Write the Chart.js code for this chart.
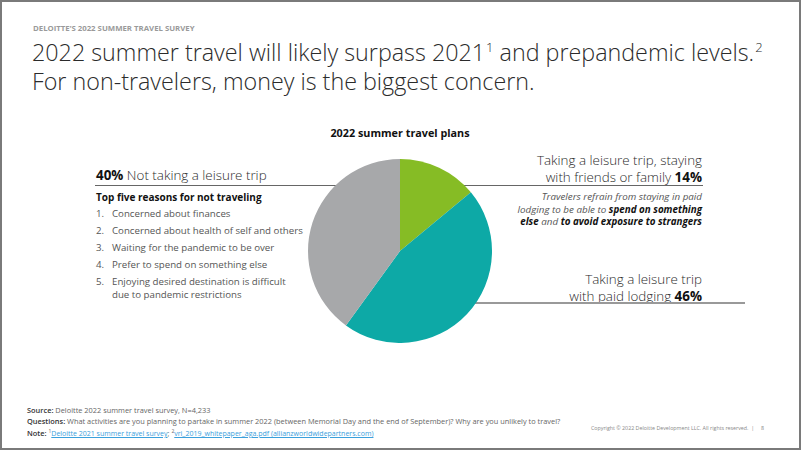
<!DOCTYPE html>
<html>
<head>
<meta charset="utf-8">
<script src="https://cdn.jsdelivr.net/npm/chart.js@4"></script>
<style>
  html, body { margin: 0; padding: 0; background: #fff; }
  body { width: 802px; height: 451px; position: relative; overflow: hidden; font-family: "Open Sans", sans-serif; color: #222; }
  .frame { position: absolute; left: 0; top: 0; width: 797px; height: 446px; border: 2px solid #7a7a7a; }
  .abs { position: absolute; white-space: nowrap; }
  .kicker { left: 33px; top: 23px; font-size: 7.8px; font-weight: 700; color: #9a9a9a; }
  .title { left: 32px; top: 40px; font-size: 23.3px; font-weight: 300; line-height: 25px; color: #2b2b2b; }
  .title sup { font-size: 13px; vertical-align: 0; position: relative; top: -9px; margin-left: 1px; }
  .ctitle { left: 300px; width: 200px; top: 125px; text-align: center; font-size: 10.8px; font-weight: 700; color: #111; }
  .big { font-size: 13.4px; font-weight: 300; color: #2b2b2b; line-height: 17px; }
  .big b { font-weight: 700; color: #111; }
  .rule { position: absolute; height: 1px; background: #666; }
  .rule.grey { background: #999; height: 2px; }
  .sub { left: 96px; top: 190px; font-size: 10px; font-weight: 700; color: #111; }
  ol { position: absolute; left: 96px; top: 205px; margin: 0; padding: 0; list-style: none; font-size: 9.7px; color: #555; line-height: 17px; }
  ol li .num { display: inline-block; width: 16px; }
  ol li.two { line-height: 13px; padding-top: 2px; }
  ol li .cont { padding-left: 16px; display: block; }
  .ital { right: 100px; top: 191px; text-align: right; font-size: 9.8px; font-style: italic; color: #555; line-height: 12.5px; }
  .ital b { color: #111; font-weight: 700; }
  .foot { left: 27px; top: 405px; font-size: 7.4px; color: #666; line-height: 10.5px; }
  .foot b { color: #333; font-weight: 600; }
  .foot a { color: #3aa0dc; text-decoration: underline; font-size: 7px; }
  .foot sup { font-size: 5px; }
  .copy { left: 591px; top: 424px; font-size: 5.3px; color: #888; }
  #pie { position: absolute; left: 308px; top: 159px; width: 184px; height: 184px; }
</style>
</head>
<body>
<div class="frame"></div>
<div class="abs kicker">DELOITTE’S 2022 SUMMER TRAVEL SURVEY</div>
<div class="abs title">2022 summer travel will likely surpass 2021<sup>1</sup> and prepandemic levels.<sup>2</sup><br>For non-travelers, money is the biggest concern.</div>

<div class="abs ctitle">2022 summer travel plans</div>

<div class="abs big" style="left:96px; top:167px;"><b>40%</b> Not taking a leisure trip</div>
<div class="rule" style="left:95px; top:185px; width:243px;"></div>
<div class="abs sub">Top five reasons for not traveling</div>
<ol>
  <li><span class="num">1.</span>Concerned about finances</li>
  <li><span class="num">2.</span>Concerned about health of self and others</li>
  <li><span class="num">3.</span>Waiting for the pandemic to be over</li>
  <li><span class="num">4.</span>Prefer to spend on something else</li>
  <li class="two"><span class="num">5.</span>Enjoying desired destination is difficult<span class="cont">due to pandemic restrictions</span></li>
</ol>

<div class="abs big" style="right:100px; top:152px; text-align:right;">Taking a leisure trip, staying<br>with friends or family <b>14%</b></div>
<div class="rule" style="left:462px; top:185px; width:241px;"></div>
<div class="abs ital">Travelers refrain from staying in paid<br>lodging to be able to <b>spend on something</b><br><b>else</b> and <b>to avoid exposure to strangers</b></div>

<div class="abs big" style="right:100px; top:271px; text-align:right;">Taking a leisure trip<br>with paid lodging <b>46%</b></div>
<div class="rule grey" style="left:474px; top:302px; width:271px;"></div>

<div id="pie"><canvas id="c"></canvas></div>

<div class="abs foot"><b>Source:</b> Deloitte 2022 summer travel survey, N=4,233<br><b>Questions:</b> What activities are you planning to partake in summer 2022 (between Memorial Day and the end of September)? Why are you unlikely to travel?<br><b>Note:</b> <sup>1</sup><a>Deloitte 2021 summer travel survey</a>; <sup>2</sup><a>vri_2019_whitepaper_aga.pdf (allianzworldwidepartners.com)</a></div>
<div class="abs copy">Copyright © 2022 Deloitte Development LLC. All rights reserved. &nbsp;|&nbsp;&nbsp;&nbsp;&nbsp; 8</div>

<script>
const categories = ['Taking a leisure trip, staying with friends or family', 'Taking a leisure trip with paid lodging', 'Not taking a leisure trip'];
const shares = [14, 46, 40];
const sliceColors = ['#86BC25', '#0DA9A6', '#A7A8AA'];

new Chart(document.getElementById('c'), {
    type: 'pie',
    data: {
        labels: categories,
        datasets: [{
            data: shares,
            backgroundColor: sliceColors,
            borderWidth: 0
        }]
    },
    options: {
        responsive: true,
        maintainAspectRatio: false,
        animation: false,
        layout: { padding: 0 },
        plugins: {
            legend: { display: false },
            tooltip: { enabled: false }
        }
    }
});
</script>
</body>
</html>
